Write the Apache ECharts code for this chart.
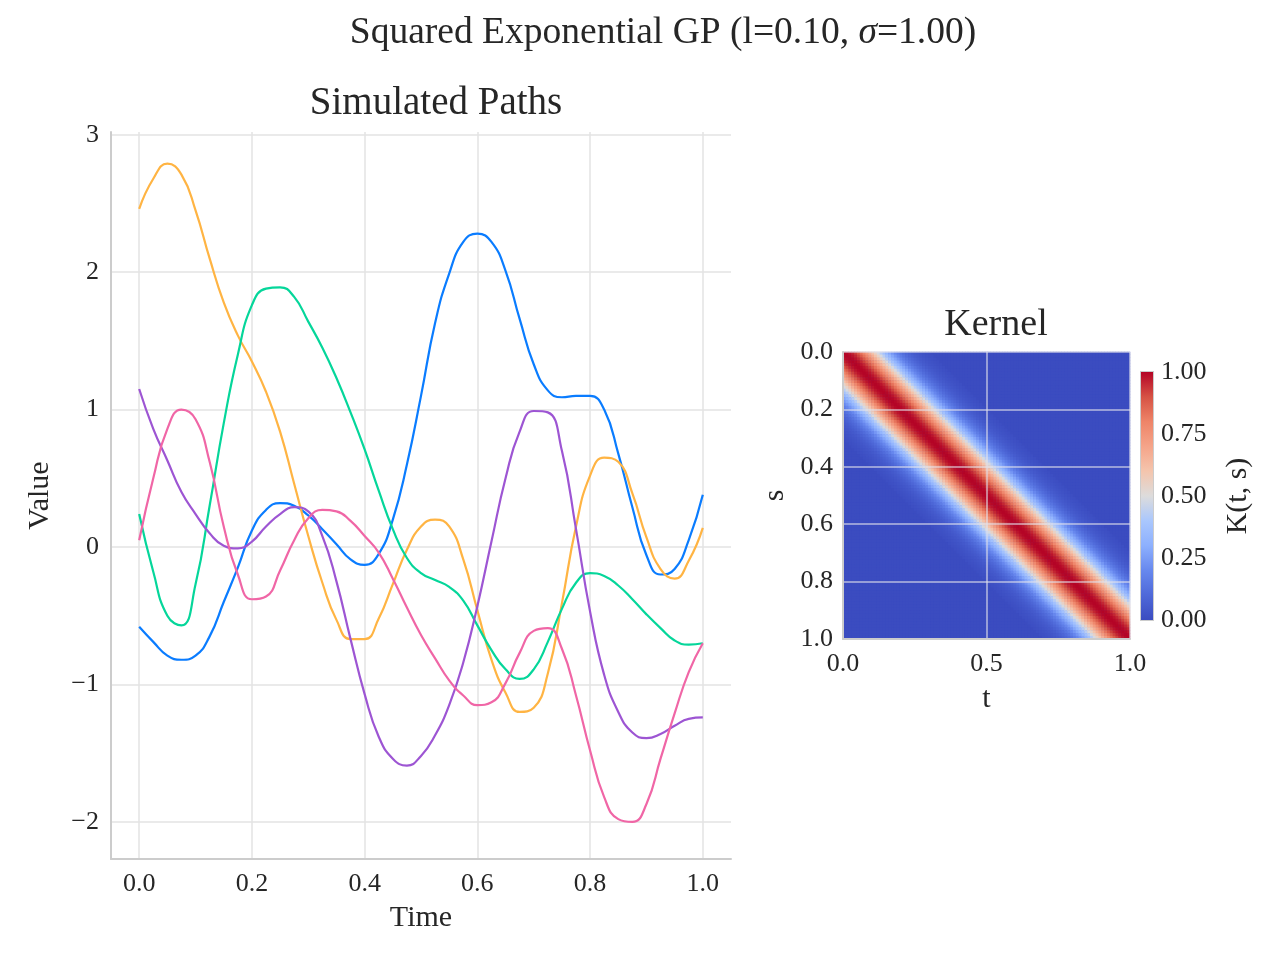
<!DOCTYPE html>
<html>
<head>
<meta charset="utf-8">
<title>Squared Exponential GP</title>
<script src="https://cdn.jsdelivr.net/npm/echarts@6/dist/echarts.min.js"></script>
<style>
  html, body { margin: 0; padding: 0; background: #fff; }
  #visualisation { width: 1280px; height: 960px; }
</style>
</head>
<body>
<div id="visualisation"></div>
<script>
const timeGrid = [0, 0.025, 0.05, 0.075, 0.1, 0.125, 0.15, 0.175, 0.2, 0.225,
  0.25, 0.275, 0.3, 0.325, 0.35, 0.375, 0.4, 0.425, 0.45, 0.475,
  0.5, 0.525, 0.55, 0.575, 0.6, 0.625, 0.65, 0.675, 0.7, 0.725,
  0.75, 0.775, 0.8, 0.825, 0.85, 0.875, 0.9, 0.925, 0.95, 0.975, 1.0];

// Paden
const pathBlue = [-0.58, -0.69, -0.79, -0.82, -0.79, -0.65, -0.40, -0.15, 0.12, 0.27,
  0.32, 0.30, 0.23, 0.13, 0.02, -0.09, -0.13, -0.05, 0.20, 0.60,
  1.10, 1.63, 1.99, 2.22, 2.28, 2.22, 2.01, 1.66, 1.33, 1.14,
  1.09, 1.10, 1.10, 1.00, 0.68, 0.29, -0.06, -0.20, -0.16, 0.05, 0.38];
const pathOrange = [2.46, 2.68, 2.79, 2.71, 2.45, 2.10, 1.78, 1.54, 1.35, 1.13,
  0.84, 0.46, 0.08, -0.26, -0.53, -0.67, -0.67, -0.52, -0.27, -0.02,
  0.15, 0.20, 0.15, -0.09, -0.46, -0.82, -1.06, -1.20, -1.17, -0.92,
  -0.41, 0.15, 0.52, 0.65, 0.62, 0.39, 0.07, -0.16, -0.23, -0.10, 0.14];
const pathGreen = [0.24, -0.18, -0.50, -0.57, -0.27, 0.30, 0.90, 1.40, 1.76, 1.88,
  1.89, 1.82, 1.64, 1.45, 1.23, 0.98, 0.71, 0.41, 0.13, -0.08,
  -0.19, -0.24, -0.29, -0.39, -0.57, -0.75, -0.89, -0.96, -0.89, -0.69,
  -0.45, -0.26, -0.19, -0.21, -0.28, -0.38, -0.49, -0.59, -0.68, -0.71, -0.70];
const pathPurple = [1.15, 0.86, 0.63, 0.40, 0.24, 0.10, 0.01, -0.01, 0.04, 0.15,
  0.24, 0.29, 0.26, 0.08, -0.25, -0.67, -1.07, -1.38, -1.54, -1.59,
  -1.52, -1.37, -1.15, -0.84, -0.43, 0.04, 0.50, 0.84, 0.99, 0.98,
  0.70, 0.13, -0.47, -0.93, -1.20, -1.35, -1.39, -1.36, -1.30, -1.25, -1.24];
const pathPink = [0.05, 0.50, 0.86, 1.00, 0.93, 0.62, 0.15, -0.20, -0.38, -0.36,
  -0.17, 0.05, 0.21, 0.27, 0.26, 0.19, 0.08, -0.04, -0.23, -0.44,
  -0.64, -0.81, -0.97, -1.08, -1.15, -1.13, -0.99, -0.77, -0.61, -0.59,
  -0.74, -1.08, -1.48, -1.82, -1.98, -2.00, -1.87, -1.54, -1.21, -0.91, -0.70];

const pathNames = ['Pad 1', 'Pad 2', 'Pad 3', 'Pad 4', 'Pad 5'];
const pathColors = ['#0A7CFF', '#FFB443', '#05D69A', '#9D55D3', '#F066A6'];

// Tick-labels
const timeTicks = [0, 0.2, 0.4, 0.6, 0.8, 1.0];
const valueTicks = [-2, -1, 0, 1, 2, 3];

const kernelByLag = [1.00, 0.995, 0.98, 0.956, 0.923, 0.882, 0.835, 0.783, 0.726, 0.667, 0.607,
  0.546, 0.487, 0.430, 0.375, 0.325, 0.278, 0.236, 0.198, 0.164, 0.135,
  0.110, 0.089, 0.071, 0.056, 0.044, 0.034, 0.026, 0.020, 0.015, 0.011];
const kernelSteps = 101;
const kernelTicksT = [0, 0.5, 1.0];
const kernelTicksS = [0, 0.2, 0.4, 0.6, 0.8, 1.0];
const colorbarTicks = [0, 0.25, 0.5, 0.75, 1.0];

const coolwarm = ['#3b4cc0', '#4f69d9', '#6788ee', '#8db0fe', '#aac7fd', '#dddcdc',
                  '#f4c5ad', '#f5a489', '#ee8468', '#d65244', '#b40426'];

function drawVisualisation() {
    let visualisation = echarts.init(document.getElementById('visualisation'));

    const font = "'Liberation Serif', 'DejaVu Serif', serif";
    const textColor = '#262626';
    const minus = v => (v < 0 ? '\u2212' + Math.abs(v) : String(v));

    // Heatmap-cellen opbouwen
    let cats = [];
    for (let i = 0; i < kernelSteps; i++) cats.push(String(i));
    let kernelData = [];
    for (let i = 0; i < kernelSteps; i++) {
        for (let j = 0; j < kernelSteps; j++) {
            let lag = Math.abs(i - j);
            kernelData.push([i, j, lag < kernelByLag.length ? kernelByLag[lag] : 0]);
        }
    }

    const paths = [pathBlue, pathOrange, pathGreen, pathPurple, pathPink];
    let lineSeries = paths.map((p, k) => ({
        name: pathNames[k],
        type: 'line',
        xAxisIndex: 0,
        yAxisIndex: 0,
        data: p.map((v, i) => [timeGrid[i], v]),
        smooth: 0.5,
        showSymbol: false,
        lineStyle: { color: pathColors[k], width: 2.2 },
        itemStyle: { color: pathColors[k] },
        silent: true
    }));

    const label = { fontFamily: font, fontSize: 26, color: textColor };
    const nameStyle = { fontFamily: font, fontSize: 30, color: textColor };
    const spine = { show: true, onZero: false, lineStyle: { color: '#cccccc', width: 2 } };

    let option = {
        animation: false,
        graphic: [
            {
                type: 'text', x: 663, y: 33,
                style: {
                    text: '{n|Squared Exponential GP (l=0.10, }{i|σ}{n|=1.00)}',
                    align: 'center', verticalAlign: 'middle',
                    rich: {
                        n: { fontFamily: font, fontSize: 37.5, fill: textColor },
                        i: { fontFamily: font, fontSize: 37.5, fontStyle: 'italic', fill: textColor }
                    }
                }
            },
            { type: 'text', x: 436, y: 104, style: { text: 'Simulated Paths', fontFamily: font, fontSize: 39, fill: textColor, align: 'center', verticalAlign: 'middle' } },
            { type: 'text', x: 996, y: 325, style: { text: 'Kernel', fontFamily: font, fontSize: 38, fill: textColor, align: 'center', verticalAlign: 'middle' } }
        ],
        grid: [
            { left: 111, top: 132, width: 620, height: 727 },
            { left: 843, top: 352, width: 287, height: 287, show: true, backgroundColor: coolwarm[0], borderWidth: 0 },
            { left: 843, top: 352, width: 287, height: 287 },
            { left: 1141, top: 372, width: 12, height: 248, show: true, borderColor: '#cccccc', borderWidth: 2, backgroundColor: 'transparent' }
        ],
        xAxis: [
            {
                gridIndex: 0, type: 'value', min: -0.05, max: 1.05,
                axisLine: spine,
                axisTick: { show: false, customValues: timeTicks },
                axisLabel: Object.assign({ customValues: timeTicks, margin: 12, formatter: v => v.toFixed(1) }, label),
                splitLine: { show: true, lineStyle: { color: '#e3e3e3', width: 1.5 } },
                name: 'Time', nameLocation: 'middle', nameGap: 44, nameTextStyle: nameStyle
            },
            {
                gridIndex: 1, type: 'category', data: cats, boundaryGap: true,
                axisLine: { show: false }, axisTick: { show: false }, axisLabel: { show: false }, splitLine: { show: false }
            },
            {
                gridIndex: 2, type: 'value', min: 0, max: 1, z: 5,
                axisLine: spine,
                axisTick: { show: false, customValues: kernelTicksT },
                axisLabel: Object.assign({ customValues: kernelTicksT, margin: 12, formatter: v => v.toFixed(1) }, label),
                splitLine: { show: true, lineStyle: { color: 'rgba(225,225,235,0.75)', width: 1.5 } },
                name: 't', nameLocation: 'middle', nameGap: 45, nameTextStyle: nameStyle
            },
            {
                gridIndex: 3, type: 'category', data: [''],
                axisLine: { show: false }, axisTick: { show: false }, axisLabel: { show: false }, splitLine: { show: false }
            }
        ],
        yAxis: [
            {
                gridIndex: 0, type: 'value', min: -2.27, max: 3.02,
                axisLine: spine,
                axisTick: { show: false, customValues: valueTicks },
                axisLabel: Object.assign({ customValues: valueTicks, margin: 12, formatter: minus }, label),
                splitLine: { show: true, lineStyle: { color: '#e3e3e3', width: 1.5 } },
                name: 'Value', nameLocation: 'middle', nameGap: 56, nameTextStyle: nameStyle
            },
            {
                gridIndex: 1, type: 'category', data: cats, inverse: true, boundaryGap: true,
                axisLine: { show: false }, axisTick: { show: false }, axisLabel: { show: false }, splitLine: { show: false }
            },
            {
                gridIndex: 2, type: 'value', min: 0, max: 1, inverse: true, z: 5,
                axisLine: spine,
                axisTick: { show: false, customValues: kernelTicksS },
                axisLabel: Object.assign({ customValues: kernelTicksS, margin: 10, formatter: v => v.toFixed(1) }, label),
                splitLine: { show: true, lineStyle: { color: 'rgba(225,225,235,0.75)', width: 1.5 } },
                name: 's', nameLocation: 'middle', nameGap: 53, nameTextStyle: nameStyle
            },
            {
                gridIndex: 3, type: 'value', min: 0, max: 1, position: 'right',
                axisLine: { show: false },
                axisTick: { show: false, customValues: colorbarTicks },
                axisLabel: Object.assign({ customValues: colorbarTicks, margin: 8, formatter: v => v.toFixed(2) }, label),
                splitLine: { show: false },
                name: 'K(t, s)', nameLocation: 'middle', nameGap: 70, nameRotate: 90, nameTextStyle: nameStyle
            }
        ],
        visualMap: {
            show: false, type: 'continuous', min: 0, max: 1, dimension: 2,
            seriesIndex: 5,
            inRange: { color: coolwarm }
        },
        series: lineSeries.concat([
            {
                type: 'heatmap', xAxisIndex: 1, yAxisIndex: 1,
                data: kernelData, progressive: 0, silent: true,
                itemStyle: { borderWidth: 0 }
            },
            {
                type: 'bar', xAxisIndex: 3, yAxisIndex: 3, data: [1], barWidth: '100%', silent: true,
                itemStyle: {
                    color: {
                        type: 'linear', x: 0, y: 1, x2: 0, y2: 0,
                        colorStops: coolwarm.map((c, k) => ({ offset: k / (coolwarm.length - 1), color: c }))
                    }
                }
            }
        ])
    };

    visualisation.setOption(option);
}

window.addEventListener('load', drawVisualisation);
</script>
</body>
</html>
